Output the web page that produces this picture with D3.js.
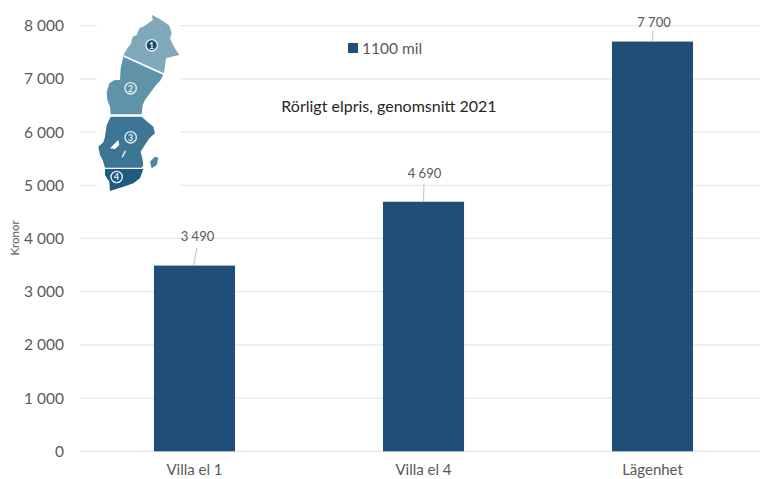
<!DOCTYPE html>
<html><head><meta charset="utf-8">
<script src="https://cdnjs.cloudflare.com/ajax/libs/d3/7.8.5/d3.min.js"></script>
<style>html,body{margin:0;background:#fff;overflow:hidden}svg{display:block;font-family:Lato,"Open Sans",sans-serif}</style>
</head><body><svg id="c" width="760" height="479"></svg>
<script>
const categories = ["Villa el 1","Villa el 4","Lägenhet"];
const values = [3490,4690,7700];
const valueLabels = ["3 490","4 690","7 700"];
const yTicks = [0,1000,2000,3000,4000,5000,6000,7000,8000];
const seriesName = "1100 mil";
const chartTitle = "Rörligt elpris, genomsnitt 2021";
const axisTitle = "Kronor";
const mapRegions = [
 {n:"1",c:"#7fa9bb",lx:185,ly:121,p:[[100,150],[112,130],[122,118],[128,95],[140,90],[148,70],[165,62],[178,52],[188,46],[186,30],[205,40],[222,50],[238,62],[245,85],[240,100],[248,118],[256,132],[268,150],[245,155],[228,160],[222,205]]},
 {n:"2",c:"#5f93a9",lx:122,ly:250,p:[[100,155],[220,210],[210,228],[198,240],[182,262],[165,285],[158,300],[155,328],[62,328],[60,305],[52,285],[50,262],[58,235],[72,226],[90,225],[92,190]]},
 {n:"3",c:"#3d7694",lx:122,ly:397,p:[[62,335],[155,335],[172,350],[190,365],[195,385],[178,400],[168,415],[152,440],[158,465],[160,480],[155,488],[45,488],[38,465],[30,450],[25,425],[40,412],[45,395],[50,360]]},
 {n:"4",c:"#1f5c80",lx:80,ly:516,p:[[45,492],[160,492],[150,520],[130,535],[100,545],[60,558],[58,530],[45,510]]}
];
const mapExtras = [
 {c:"#4f86a0",p:[[180,470],[195,455],[205,458],[200,480],[185,490]]},
 {c:"#fff",p:[[60,430],[75,415],[85,405],[88,420],[75,432]]},
 {c:"#dfe9ee",p:[[95,455],[105,435],[108,440],[98,458]]}
];
const svg = d3.select("#c");
const y = d3.scaleLinear().domain([0,8000]).range([451.3,25.6]);
const x = d3.scaleBand().domain(categories).range([80,767]).paddingInner(0.646).paddingOuter(0.323);
const fmt = v => d3.format(",")(v).replace(/,/g," ");
const ink = "#595959";

svg.append("g").selectAll("line").data(yTicks).join("line")
 .attr("x1",80).attr("x2",760).attr("y1",d=>y(d)).attr("y2",d=>y(d))
 .attr("stroke","#e6e6e6").attr("stroke-width",1.2);
svg.append("g").selectAll("text").data(yTicks).join("text")
 .attr("x",64).attr("y",d=>y(d)+5.5).attr("text-anchor","end")
 .attr("font-size",15.5).attr("fill",ink).text(fmt);
svg.append("text").attr("transform","translate(18.5,238) rotate(-90)").attr("text-anchor","middle")
 .attr("font-size",11.5).attr("fill",ink).text(axisTitle);

svg.append("g").selectAll("rect").data(values).join("rect")
 .attr("x",(d,i)=>x(categories[i])).attr("width",x.bandwidth())
 .attr("y",d=>y(d)).attr("height",d=>y(0)-y(d)).attr("fill","#1f4e79");

const cx = i => x(categories[i])+x.bandwidth()/2;
svg.append("g").selectAll("line").data(values).join("line")
 .attr("x1",(d,i)=>cx(i)+(i==0?2.5:0.5)).attr("x2",(d,i)=>cx(i)-(i==0?1:0))
 .attr("y1",d=>y(d)-(d<5000?18:11)).attr("y2",d=>y(d))
 .attr("stroke","#bfbfbf").attr("stroke-width",1);
svg.append("g").selectAll("text").data(values).join("text")
 .attr("x",(d,i)=>cx(i)+[3,1,1.5][i]).attr("y",(d,i)=>y(d)-[25,24,15][i])
 .attr("text-anchor","middle").attr("font-size",13).attr("fill",ink)
 .text((d,i)=>valueLabels[i]);

svg.append("g").selectAll("text").data(categories).join("text")
 .attr("x",d=>x(d)+x.bandwidth()/2).attr("y",475).attr("text-anchor","middle")
 .attr("font-size",15).attr("fill",ink).text(d=>d);

svg.append("rect").attr("x",348).attr("y",43).attr("width",10).attr("height",10).attr("fill","#1f4e79");
svg.append("text").attr("x",362).attr("y",54).attr("font-size",15.5).attr("fill",ink).text(seriesName);
svg.append("text").attr("x",389).attr("y",112).attr("text-anchor","middle").attr("font-size",16)
 .attr("fill","#262626").text(chartTitle);

// map illustration
const defs = svg.append("defs");
defs.append("filter").attr("id","soft").append("feGaussianBlur").attr("stdDeviation",1.6);
svg.append("rect").attr("x",97).attr("y",8).attr("width",83).attr("height",186).attr("fill","#fff");
const map = svg.append("g").attr("transform","translate(90,5) scale(0.3333)").attr("filter","url(#soft)");
const line = d3.line().curve(d3.curveLinearClosed);
map.selectAll("path.r").data(mapRegions).join("path").attr("class","r")
 .attr("d",d=>line(d.p)).attr("fill",d=>d.c);
map.selectAll("path.e").data(mapExtras).join("path").attr("class","e")
 .attr("d",d=>line(d.p)).attr("fill",d=>d.c);
map.selectAll("circle").data(mapRegions).join("circle")
 .attr("cx",d=>d.lx).attr("cy",d=>d.ly).attr("r",17)
 .attr("fill",(d,i)=>i==0?"#1d4a66":"none").attr("stroke","#e8f0f3").attr("stroke-width",4);
map.selectAll("text").data(mapRegions).join("text")
 .attr("x",d=>d.lx).attr("y",d=>d.ly+10).attr("text-anchor","middle").attr("font-size",27).attr("font-weight",700)
 .attr("fill","#e8f0f3").text(d=>d.n);
</script></body></html>
